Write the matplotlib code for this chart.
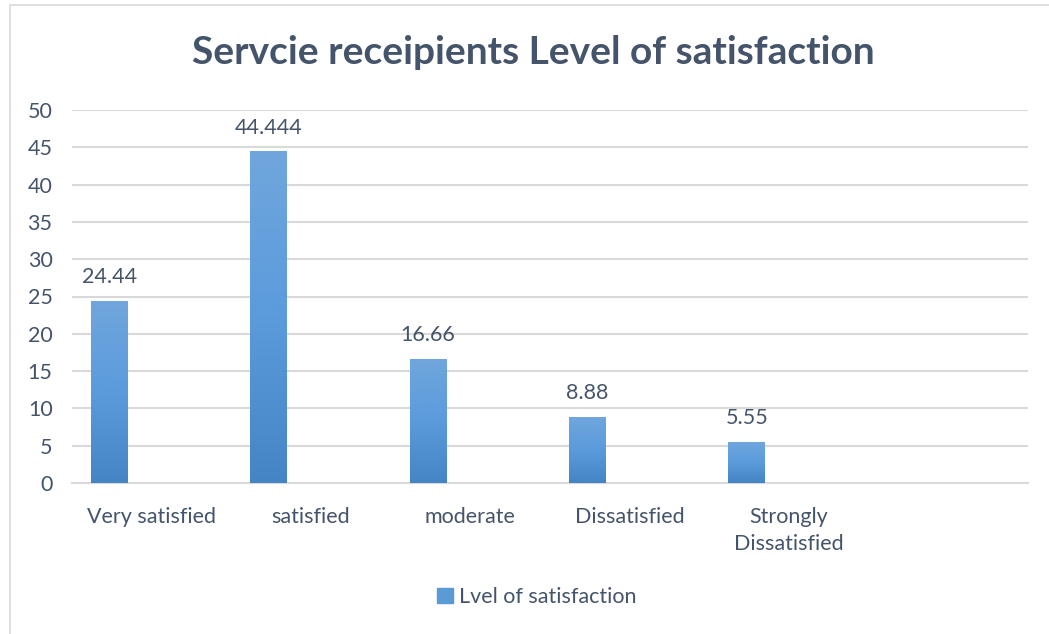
import matplotlib.pyplot as plt
import matplotlib.patches as mpatches
from matplotlib.colors import LinearSegmentedColormap
import numpy as np

plt.rcParams['font.family'] = ['Lato', 'DejaVu Sans']

categories = ['Very satisfied', 'satisfied', 'moderate', 'Dissatisfied',
              'Strongly\nDissatisfied']
values = [24.44, 44.444, 16.66, 8.88, 5.55]
value_labels = ['24.44', '44.444', '16.66', '8.88', '5.55']
yticks = [0, 5, 10, 15, 20, 25, 30, 35, 40, 45, 50]
series_name = 'Lvel of satisfaction'

text_col = '#44546a'
grid_col = '#d9d9d9'
fs = 15.5
blue_grad = LinearSegmentedColormap.from_list('bar', ['#4585c6', '#5b9bdc', '#70a6dc'])

fig = plt.figure(figsize=(10.49, 6.34), dpi=100)
ax = fig.add_axes([72 / 1049, 1 - 483 / 634, (1028 - 72) / 1049, (483 - 110) / 634])

# chart frame
fig.patches.append(mpatches.Rectangle((10 / 1049, -0.05), 1.2, 1 - 5 / 634 + 0.05,
                                      transform=fig.transFigure, fill=False,
                                      edgecolor='#d9d9d9', lw=1.2))

x = np.arange(len(categories))
offset = -0.265
width = 0.23
bars = ax.bar(x + offset, values, width=width, color='#5b9bd5', zorder=3)

# vertical gradient fill for each bar
grad = np.linspace(0, 1, 256).reshape(-1, 1)
for b in bars:
    b.set_facecolor('none')
    x0, y0 = b.get_x(), b.get_y()
    im = ax.imshow(grad, cmap=blue_grad, origin='lower', aspect='auto',
                   extent=[x0, x0 + b.get_width(), y0, y0 + b.get_height()],
                   zorder=3)
    im.set_clip_path(b)

for xi, v, lab in zip(x, values, value_labels):
    ax.annotate(lab, (xi + offset, v), xytext=(0, 10), textcoords='offset points',
                ha='center', va='bottom', fontsize=fs, color=text_col)

ax.set_xlim(-0.5, 5.5)
ax.set_ylim(0, 50)
ax.set_yticks(yticks)
ax.set_xticks(x)
ax.set_xticklabels(categories, fontsize=fs, color=text_col, linespacing=1.45)
ax.tick_params(axis='x', length=0, pad=17)
ax.tick_params(axis='y', length=0, pad=14, labelsize=fs, labelcolor=text_col)

ax.grid(axis='y', color=grid_col, lw=1.5, zorder=0)
for s in ['top', 'right', 'left']:
    ax.spines[s].set_visible(False)
ax.spines['bottom'].set_color(grid_col)
ax.spines['bottom'].set_linewidth(1.5)

fig.text(533 / 1049, 1 - 52 / 634, 'Servcie receipients Level of satisfaction',
         ha='center', va='center', fontsize=28, fontweight='bold', color=text_col)

handle = mpatches.Patch(color='#5b9bd5', label=series_name)
fig.legend(handles=[handle], loc='center', bbox_to_anchor=(537 / 1049, 1 - 597 / 634),
           frameon=False, fontsize=fs, handlelength=0.7, handleheight=0.7,
           handletextpad=0.3, labelcolor=text_col)

fig.savefig('out.png', dpi=100)
